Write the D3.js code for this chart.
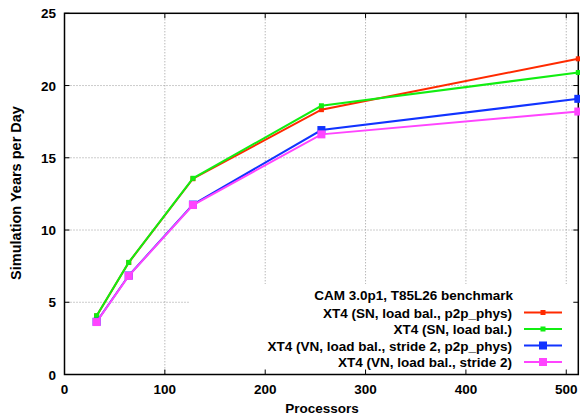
<!DOCTYPE html>
<html><head><meta charset="utf-8">
<script src="https://cdn.jsdelivr.net/npm/d3@7"></script>
<style>body{margin:0;background:#fff}svg{display:block}text{font-family:"Liberation Sans",Arial,sans-serif;font-weight:bold}</style>
</head><body><svg id="c" width="580" height="417"></svg>
<script>
const processors = [32, 64, 128, 256, 512];
const snLoadBalP2p = [4.05, 7.75, 13.55, 18.33, 21.85];
const snLoadBal = [4.07, 7.76, 13.58, 18.6, 20.9];
const vnStride2P2p = [3.65, 6.85, 11.76, 16.92, 19.08];
const vnStride2 = [3.63, 6.83, 11.73, 16.62, 18.2];
const seriesNames = ["XT4 (SN, load bal., p2p_phys)", "XT4 (SN, load bal.)", "XT4 (VN, load bal., stride 2, p2p_phys)", "XT4 (VN, load bal., stride 2)"];
const seriesColors = ["#ff2a00", "#11ee11", "#1133ff", "#ff44ff"];
const markerSizes = [5, 5, 8, 8];
const xTicks = [0, 100, 200, 300, 400, 500];
const yTicks = [0, 5, 10, 15, 20, 25];
const legendTitle = "CAM 3.0p1, T85L26 benchmark";

const series = [snLoadBalP2p, snLoadBal, vnStride2P2p, vnStride2];
const svg = d3.select("#c");
const L = 64.5, R = 578.3, T = 13.3, B = 374.5;
const x = d3.scaleLinear().domain([0, 512]).range([L, R]);
const y = d3.scaleLinear().domain([0, 25]).range([B, T]);

// grid
const grid = svg.append("g").attr("stroke", "#999").attr("stroke-width", 1).attr("stroke-dasharray", "1,2");
xTicks.filter(d => d > 0).forEach(d => grid.append("line").attr("x1", x(d)).attr("x2", x(d)).attr("y1", T).attr("y2", B));
yTicks.filter(d => d > 0 && d < 25).forEach(d => grid.append("line").attr("x1", L).attr("x2", R).attr("y1", y(d)).attr("y2", y(d)));
// legend area clears grid
svg.append("rect").attr("x", 190).attr("y", 284).attr("width", R - 190).attr("height", B - 284).attr("fill", "#fff");

// axes
const ax = svg.append("g").attr("stroke", "#000").attr("stroke-width", 1);
xTicks.forEach(d => {
  ax.append("line").attr("x1", x(d)).attr("x2", x(d)).attr("y1", B).attr("y2", B - 5);
  ax.append("line").attr("x1", x(d)).attr("x2", x(d)).attr("y1", T).attr("y2", T + 5);
});
yTicks.forEach(d => {
  ax.append("line").attr("x1", L).attr("x2", L + 5).attr("y1", y(d)).attr("y2", y(d));
  ax.append("line").attr("x1", R).attr("x2", R - 5).attr("y1", y(d)).attr("y2", y(d));
});
svg.append("rect").attr("x", L).attr("y", T).attr("width", R - L).attr("height", B - T)
  .attr("fill", "none").attr("stroke", "#000").attr("stroke-width", 1.5);

svg.append("g").selectAll("text").data(xTicks).join("text")
  .attr("x", d => x(d)).attr("y", 394).attr("text-anchor", "middle").attr("font-size", 13.5).text(d => d);
svg.append("g").selectAll("text").data(yTicks).join("text")
  .attr("x", 56).attr("y", d => y(d) + 5).attr("text-anchor", "end").attr("font-size", 13.5).text(d => d);

svg.append("text").attr("x", 322).attr("y", 413).attr("text-anchor", "middle").attr("font-size", 13.5).text("Processors");
svg.append("text").attr("transform", "translate(21,193) rotate(-90)").attr("text-anchor", "middle").attr("font-size", 14.5).text("Simulation Years per Day");

// data
const line = d3.line().x((d, i) => x(processors[i])).y(d => y(d));
series.forEach((s, k) => {
  svg.append("path").datum(s).attr("d", line).attr("fill", "none").attr("stroke", seriesColors[k]).attr("stroke-width", 2);
  svg.append("g").selectAll("rect").data(s).join("rect")
    .attr("x", (d, i) => x(processors[i]) - markerSizes[k] / 2).attr("y", d => y(d) - markerSizes[k] / 2)
    .attr("width", markerSizes[k]).attr("height", markerSizes[k]).attr("fill", seriesColors[k]);
});

// legend
const lg = svg.append("g");
lg.append("text").attr("x", 513).attr("y", 300).attr("text-anchor", "end").attr("font-size", 13.5).text(legendTitle);
seriesNames.forEach((n, k) => {
  const yy = 312.5 + k * 16.5;
  lg.append("text").attr("x", 512).attr("y", yy + 5).attr("text-anchor", "end").attr("font-size", 13.5).text(n);
  lg.append("line").attr("x1", 524).attr("x2", 562).attr("y1", yy).attr("y2", yy).attr("stroke", seriesColors[k]).attr("stroke-width", 2);
  lg.append("rect").attr("x", 543 - markerSizes[k] / 2).attr("y", yy - markerSizes[k] / 2).attr("width", markerSizes[k]).attr("height", markerSizes[k]).attr("fill", seriesColors[k]);
});
</script></body></html>
